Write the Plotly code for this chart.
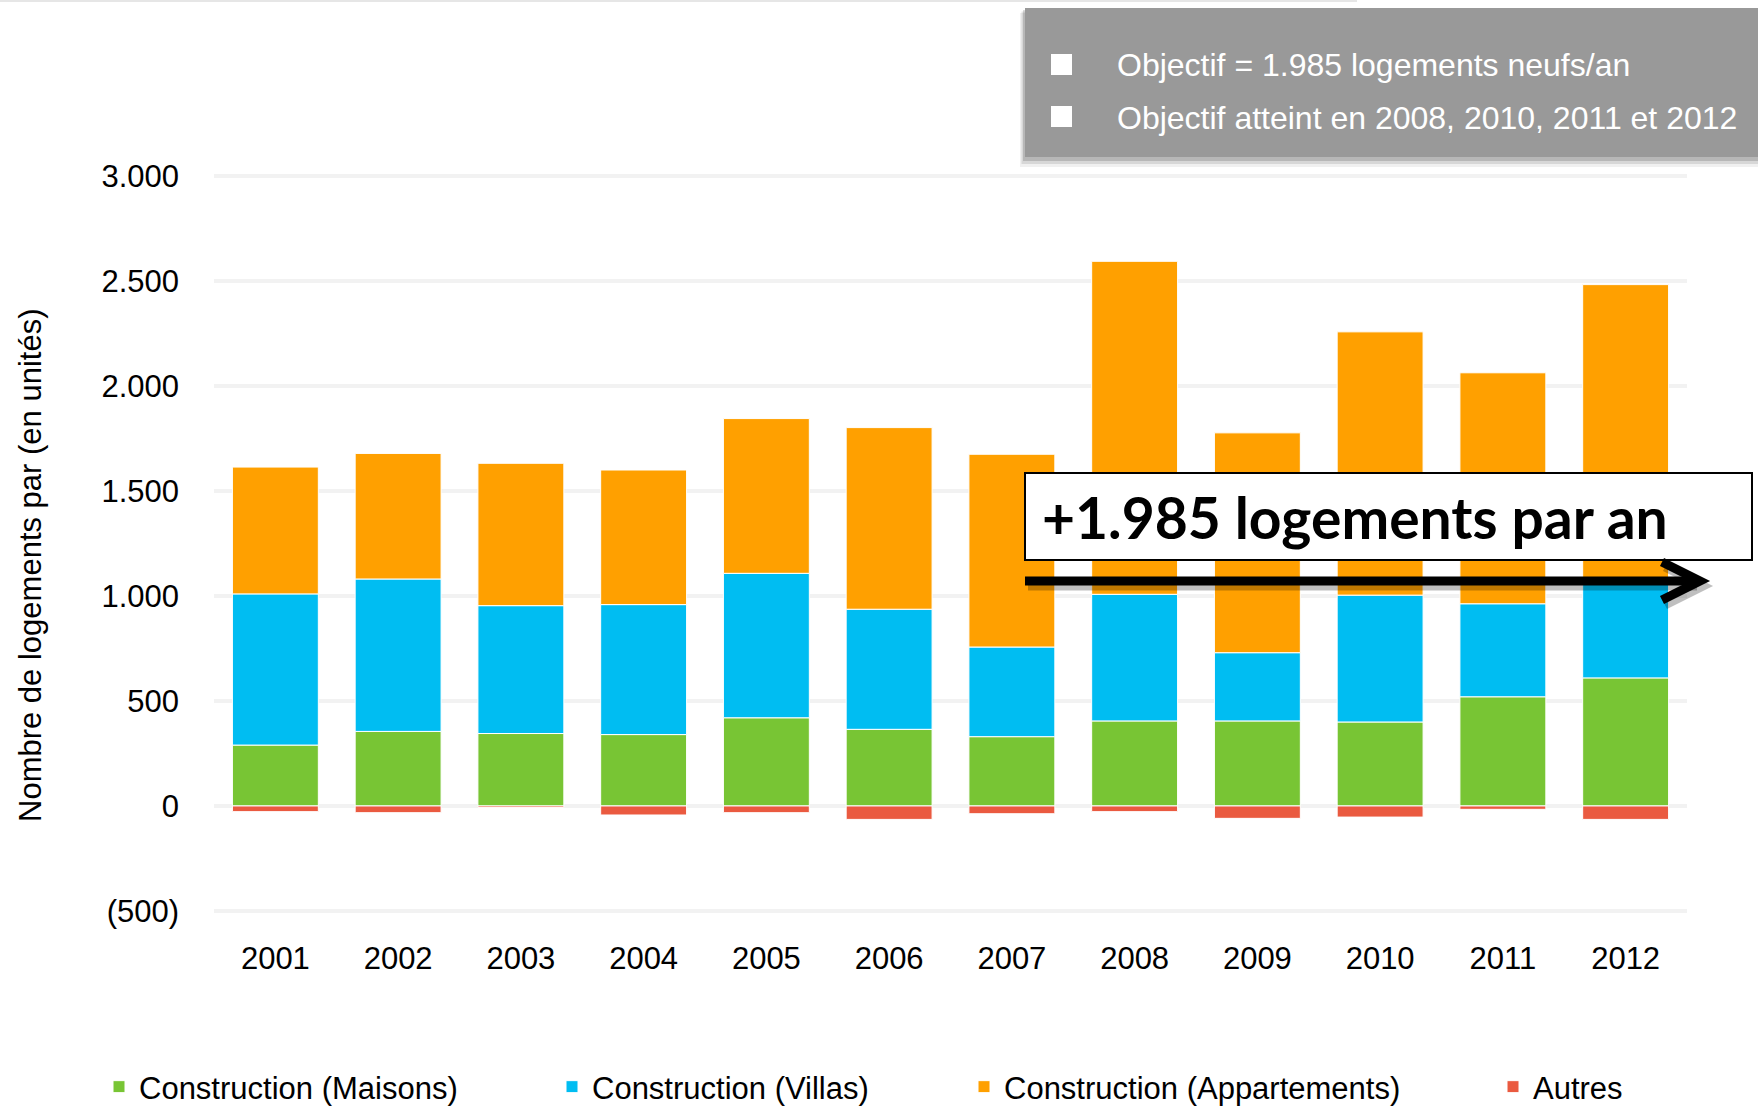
import plotly.graph_objects as go

years = ["2001", "2002", "2003", "2004", "2005", "2006",
         "2007", "2008", "2009", "2010", "2011", "2012"]
maisons = [290, 355, 345, 340, 420, 365, 330, 405, 405, 400, 520, 610]
villas = [720, 726, 609, 619, 688, 572, 427, 603, 325, 604, 443, 455]
appartements = [604, 598, 678, 641, 737, 865, 918, 1586, 1047, 1254, 1100, 1418]
autres = [-27, -32, -7, -43, -32, -64, -37, -27, -59, -53, -16, -64]

series = [
    ("Construction (Maisons)", maisons, "#78C534"),
    ("Construction (Villas)", villas, "#00BDF2"),
    ("Construction (Appartements)", appartements, "#FFA000"),
    ("Autres", autres, "#EA5A40"),
]

y_ticks = [-500, 0, 500, 1000, 1500, 2000, 2500, 3000]
y_text = ["(500)", "0", "500", "1.000", "1.500", "2.000", "2.500", "3.000"]
y_title = "Nombre de logements par (en unités)"

box_lines = ["Objectif = 1.985 logements neufs/an",
             "Objectif atteint en 2008, 2010, 2011 et 2012"]
callout = "+1.985 logements par an"

W, H = 1758, 1117
L, R, T, B = 214, 71, 175, 205
PW, PH = W - L - R, H - T - B


def px(x):
    return (x - L) / PW


def py(y):
    return (H - B - y) / PH


SANS = "Liberation Sans, Arial"

fig = go.Figure()
for i, (name, vals, col) in enumerate(series):
    lg = "legend" if i == 0 else f"legend{i + 1}"
    fig.add_trace(go.Bar(
        x=years, y=vals, name=name, legend=lg, showlegend=True,
        marker=dict(color=col, line=dict(color="white", width=1)),
    ))

# one legend per entry so the entries sit where they do in the source
legend_x = [99, 552, 964, 1493]
legends = {}
for i, lx in enumerate(legend_x):
    key = "legend" if i == 0 else f"legend{i + 1}"
    legends[key] = dict(
        xref="container", yref="container",
        x=lx / W, y=1 - 1087 / H, xanchor="left", yanchor="middle",
        orientation="h", bgcolor="rgba(0,0,0,0)",
        font=dict(family=SANS, size=31, color="black"),
    )

shapes = []
# faint line at top
shapes.append(dict(type="line", xref="paper", yref="paper",
                   x0=px(0), x1=px(1357), y0=py(1), y1=py(1),
                   line=dict(color="#E6E6E6", width=2)))
# grey info box with shadow
for off, alpha in [(10, 0.06), (7, 0.1), (4, 0.15)]:
    shapes.append(dict(type="rect", xref="paper", yref="paper",
                       x0=px(1025 - off / 2), x1=px(1760), y0=py(157 + off), y1=py(8 + off / 2),
                       fillcolor=f"rgba(0,0,0,{alpha})", line=dict(width=0), layer="above"))
shapes.append(dict(type="rect", xref="paper", yref="paper",
                   x0=px(1025), x1=px(1760), y0=py(157), y1=py(8),
                   fillcolor="#999999", line=dict(width=0), layer="above"))
for top in (54, 106):
    shapes.append(dict(type="rect", xref="paper", yref="paper",
                       x0=px(1051), x1=px(1072), y0=py(top + 21), y1=py(top),
                       fillcolor="white", line=dict(width=0), layer="above"))
# callout box
shapes.append(dict(type="rect", xref="paper", yref="paper",
                   x0=px(1025), x1=px(1752), y0=py(560), y1=py(473),
                   fillcolor="white", line=dict(color="black", width=2), layer="above"))
# arrow with shadow
for dx, dy, col in [(3, 5, "rgba(0,0,0,0.25)"), (0, 0, "black")]:
    shapes.append(dict(type="line", xref="paper", yref="paper",
                       x0=px(1025 + dx), x1=px(1694 + dx), y0=py(581 + dy), y1=py(581 + dy),
                       line=dict(color=col, width=9), layer="above"))
    shapes.append(dict(type="path", xref="paper", yref="paper",
                       path=(f"M{px(1662 + dx)},{py(562 + dy)} L{px(1700 + dx)},{py(581 + dy)} "
                             f"L{px(1662 + dx)},{py(600 + dy)}"),
                       line=dict(color=col, width=9), layer="above"))

annotations = []
for txt, yy in zip(box_lines, (65, 118)):
    annotations.append(dict(text=txt, xref="paper", yref="paper", x=px(1115), y=py(yy),
                            xanchor="left", yanchor="middle", showarrow=False,
                            font=dict(family=SANS, size=32, color="white")))
annotations.append(dict(text=f"<b>{callout}</b>", xref="paper", yref="paper",
                        x=px(1040), y=py(517), xanchor="left", yanchor="middle",
                        showarrow=False, font=dict(family="Lato", size=57, color="black")))
# y axis title, a little below the axis centre as in the source
annotations.append(dict(text=y_title, xref="paper", yref="paper", x=px(30), y=py(566),
                        xanchor="center", yanchor="middle", textangle=-90, showarrow=False,
                        font=dict(family=SANS, size=31, color="black")))

fig.update_layout(
    width=W, height=H,
    margin=dict(l=L, r=R, t=T, b=B, autoexpand=False),
    barmode="relative", bargap=0.3, showlegend=True,
    plot_bgcolor="white", paper_bgcolor="white",
    shapes=shapes, annotations=annotations,
    **legends,
)
fig.update_xaxes(
    showgrid=False, showline=False, ticks="", automargin=False,
    tickfont=dict(family=SANS, size=31, color="black"),
    ticklabelstandoff=25,
)
fig.update_yaxes(
    range=[-505, 3005], tickvals=y_ticks, ticktext=y_text, automargin=False,
    showgrid=True, gridcolor="#F2F2F2", gridwidth=4,
    zeroline=True, zerolinecolor="#F2F2F2", zerolinewidth=4,
    tickfont=dict(family=SANS, size=31, color="black"),
    ticklabelstandoff=34,
)

fig.write_html(
    "out.html",
    config={"displayModeBar": False},
    post_script="document.body.style.margin='0';document.body.style.overflow='hidden';",
)
